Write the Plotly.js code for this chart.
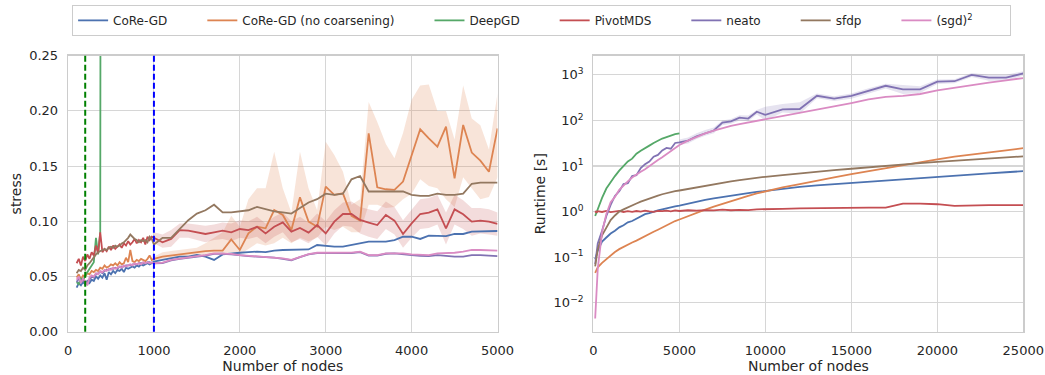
<!DOCTYPE html>
<html><head><meta charset="utf-8">
<script src="https://cdn.plot.ly/plotly-3.0.1.min.js"></script>
<style>html,body{margin:0;padding:0;background:#fff}#chart{width:1045px;height:375px}</style>
</head><body><div id="chart"></div>
<script>
// ---------- series names & colours ----------
const seriesNames = ['CoRe-GD', 'CoRe-GD (no coarsening)', 'DeepGD', 'PivotMDS', 'neato', 'sfdp', '(sgd)<sup>2</sup>'];
const seriesColors = ['#4c72b0', '#dd8452', '#55a868', '#c44e52', '#8172b3', '#937860', '#da8bc3'];

// ---------- stress (left) ----------
const stressNodes = [100,125,150,175,200,225,250,275,300,325,350,375,400,425,450,475,500,525,550,575,600,625,650,675,700,725,750,775,800,825,850,875,900,925,950,975,
  1000,1100,1200,1300,1400,1500,1600,1700,1800,1900,2000,2100,2200,2300,2400,2500,2600,2700,2800,2900,3000,3100,3200,3300,3400,3500,3600,3700,3800,3900,4000,4100,4200,4300,4400,4500,4600,4700,4800,4900,5000];

const stressCoreGD = [0.040,0.044,0.042,0.045,0.043,0.046,0.044,0.047,0.046,0.050,0.048,0.051,0.049,0.053,0.047,0.054,0.052,0.055,0.053,0.056,0.055,0.057,0.054,0.058,0.057,0.058,0.059,0.058,0.060,0.059,0.061,0.060,0.061,0.062,0.061,0.062,
  0.0634,0.065,0.0664,0.068,0.068,0.0695,0.068,0.065,0.070,0.071,0.0715,0.072,0.0725,0.072,0.0734,0.074,0.074,0.0745,0.0745,0.0785,0.0775,0.077,0.077,0.0785,0.0806,0.0815,0.0815,0.0815,0.083,0.086,0.086,0.084,0.087,0.087,0.0865,0.0885,0.0885,0.0906,0.0906,0.0906,0.0912];

const stressNoCoarse = [0.049,0.052,0.047,0.051,0.050,0.053,0.052,0.055,0.054,0.056,0.055,0.058,0.057,0.060,0.058,0.059,0.061,0.060,0.062,0.060,0.063,0.061,0.062,0.067,0.063,0.074,0.064,0.063,0.065,0.064,0.066,0.065,0.064,0.066,0.069,0.065,
  0.066,0.068,0.069,0.070,0.071,0.0725,0.073,0.0735,0.0734,0.0836,0.074,0.0891,0.0951,0.0936,0.1102,0.1057,0.0921,0.1217,0.0997,0.0951,0.1314,0.1239,0.1253,0.1048,0.1006,0.1797,0.1308,0.129,0.1284,0.136,0.1601,0.1833,0.1751,0.1676,0.1857,0.1389,0.1872,0.1622,0.1549,0.1449,0.1842];

const stressPivotMDS = [0.062,0.066,0.060,0.068,0.064,0.070,0.066,0.072,0.069,0.078,0.071,0.090,0.072,0.075,0.073,0.077,0.074,0.078,0.075,0.077,0.079,0.076,0.080,0.078,0.082,0.079,0.081,0.084,0.080,0.083,0.081,0.085,0.079,0.086,0.083,0.086,
  0.085,0.081,0.084,0.092,0.0915,0.090,0.0885,0.090,0.0915,0.090,0.093,0.092,0.095,0.089,0.095,0.099,0.0906,0.094,0.0897,0.0966,0.089,0.0997,0.1066,0.1066,0.1012,0.0988,0.0966,0.1057,0.1006,0.0885,0.0981,0.1066,0.1078,0.1108,0.0936,0.1108,0.1063,0.0997,0.1006,0.0997,0.0976];

const stressNeato = [0.045,0.048,0.046,0.047,0.044,0.043,0.047,0.050,0.049,0.052,0.053,0.054,0.053,0.055,0.056,0.056,0.057,0.057,0.058,0.057,0.059,0.059,0.059,0.060,0.060,0.060,0.061,0.061,0.061,0.062,0.062,0.062,0.062,0.063,0.063,0.062,
  0.0618,0.0622,0.0645,0.066,0.0668,0.068,0.069,0.0705,0.0706,0.070,0.069,0.0684,0.068,0.0676,0.067,0.066,0.0647,0.0676,0.070,0.0712,0.0713,0.0712,0.0713,0.0712,0.072,0.069,0.069,0.0706,0.071,0.070,0.0694,0.0688,0.0685,0.0694,0.0685,0.068,0.068,0.0694,0.0694,0.0688,0.0685];

const stressSfdp = [0.053,0.056,0.055,0.058,0.056,0.060,0.062,0.065,0.067,0.070,0.072,0.073,0.074,0.075,0.074,0.076,0.077,0.076,0.078,0.077,0.078,0.080,0.081,0.083,0.085,0.088,0.086,0.084,0.083,0.081,0.083,0.082,0.083,0.081,0.086,0.084,
  0.079,0.085,0.085,0.093,0.101,0.107,0.110,0.115,0.108,0.108,0.109,0.110,0.113,0.111,0.109,0.108,0.107,0.112,0.117,0.120,0.125,0.124,0.125,0.138,0.141,0.127,0.127,0.127,0.127,0.127,0.124,0.123,0.123,0.125,0.124,0.124,0.125,0.134,0.135,0.135,0.135];

const stressSgd2 = [0.047,0.050,0.044,0.048,0.046,0.042,0.049,0.051,0.050,0.053,0.052,0.055,0.054,0.056,0.055,0.057,0.056,0.058,0.057,0.058,0.059,0.058,0.060,0.059,0.060,0.061,0.060,0.062,0.061,0.062,0.061,0.063,0.062,0.063,0.062,0.063,
  0.062,0.0625,0.065,0.0664,0.0673,0.0685,0.0694,0.071,0.071,0.0704,0.0694,0.0688,0.0685,0.068,0.0673,0.0664,0.065,0.068,0.0703,0.0715,0.0716,0.0716,0.0716,0.0716,0.0725,0.0694,0.0694,0.071,0.071,0.071,0.070,0.0694,0.0694,0.071,0.071,0.0715,0.0725,0.074,0.074,0.0735,0.0734];

const deepgdNodes = [100,125,150,175,200,225,250,275,300,325,350,375,400,425,450,475,500];
const stressDeepGD = [0.045,0.043,0.048,0.046,0.051,0.054,0.058,0.060,0.063,0.085,0.070,0.090,2.0,2.6,3.1,3.5,3.9];

// confidence bands (1000-5000)
const bandNodes = [1000,1100,1200,1300,1400,1500,1600,1700,1800,1900,2000,2100,2200,2300,2400,2500,2600,2700,2800,2900,3000,3100,3200,3300,3400,3500,3600,3700,3800,3900,4000,4100,4200,4300,4400,4500,4600,4700,4800,4900,5000];
const noCoarseUpper = [0.068,0.072,0.073,0.074,0.075,0.076,0.08,0.085,0.09,0.105,0.095,0.12,0.13,0.13,0.163,0.13,0.108,0.163,0.13,0.11,0.172,0.16,0.145,0.115,0.12,0.208,0.19,0.17,0.157,0.18,0.21,0.223,0.224,0.2,0.2,0.174,0.223,0.193,0.187,0.165,0.216];
const noCoarseLower = [0.064,0.065,0.066,0.067,0.068,0.069,0.07,0.07,0.071,0.072,0.07,0.075,0.08,0.078,0.08,0.085,0.08,0.085,0.082,0.085,0.095,0.092,0.095,0.09,0.09,0.115,0.115,0.112,0.113,0.12,0.125,0.138,0.132,0.13,0.12,0.113,0.14,0.13,0.12,0.122,0.14];
const pivotUpper = [0.09,0.088,0.092,0.098,0.098,0.097,0.096,0.097,0.099,0.098,0.101,0.100,0.104,0.098,0.104,0.108,0.100,0.104,0.099,0.107,0.1,0.110,0.117,0.118,0.113,0.111,0.109,0.118,0.113,0.101,0.111,0.12,0.121,0.124,0.108,0.124,0.119,0.112,0.112,0.111,0.108];
const pivotLower = [0.08,0.076,0.077,0.085,0.085,0.083,0.081,0.083,0.084,0.082,0.085,0.084,0.086,0.080,0.086,0.09,0.081,0.084,0.080,0.086,0.078,0.089,0.096,0.095,0.089,0.086,0.084,0.093,0.088,0.076,0.085,0.093,0.094,0.097,0.079,0.097,0.093,0.087,0.089,0.088,0.087];

const thresholdNodes = [200, 1000];
const thresholdColors = ['#008000', '#0000ff'];

// ---------- runtime (right) ----------
const rtNodes = [100,150,200,250,500,750,1000,1250,1500,1750,2000,2250,2500,2750,3000,3250,3500,3750,4000,4250,4500,4750,5000,
  5500,6000,6500,7000,7500,8000,8500,9000,9500,10000,11000,12000,13000,14000,15000,16000,17000,18000,19000,20000,21000,22000,23000,24000,25000];
const rtCoreGD = [0.09,0.1,0.12,0.14,0.22,0.27,0.33,0.38,0.45,0.5,0.58,0.62,0.7,0.78,0.88,0.92,1.0,1.06,1.12,1.18,1.28,1.3,1.35,1.5,1.65,1.8,1.95,2.1,2.25,2.4,2.55,2.7,2.85,3.2,3.5,3.75,4.0,4.2,4.5,4.8,5.1,5.4,5.7,6.1,6.5,6.9,7.3,7.7];
const rtNoCoarse = [0.045,0.05,0.055,0.06,0.075,0.09,0.11,0.13,0.15,0.17,0.19,0.21,0.23,0.26,0.29,0.32,0.36,0.4,0.45,0.5,0.56,0.62,0.67,0.8,0.95,1.1,1.28,1.48,1.7,1.95,2.2,2.5,2.8,3.4,4.0,4.8,5.6,6.6,7.7,9.0,10.5,12.2,14,16,18,20,22,24.6];
const rtDeepGD = [0.8,0.9,1.0,1.1,2.0,3.2,4.5,6.0,7.9,10,12.6,14.5,18.6,21.5,25,28,32,36,40,43,47,50,52];
const rtPivotMDS = [0.95,1.0,0.97,1.02,0.98,1.03,0.97,1.01,1.04,0.98,1.02,0.99,1.03,1.0,1.05,1.01,0.99,1.04,1.02,1.05,1.01,1.06,1.03,1.07,1.05,1.08,1.06,1.1,1.07,1.09,1.08,1.12,1.14,1.15,1.17,1.19,1.2,1.22,1.22,1.22,1.5,1.5,1.45,1.33,1.38,1.38,1.38,1.38];
const rtNeato = [0.07,0.1,0.13,0.2,0.38,0.8,1.4,2.2,2.8,4.0,4.2,6.0,6.3,9.0,11,12.5,16,17.5,22,25,24,32,33,36,45,53,60,90,95,115,110,155,132,174,178,347,302,347,447,575,479,479,708,724,1000,871,871,1070];
const rtSfdp = [0.063,0.09,0.12,0.15,0.3,0.45,0.65,0.82,1.0,1.12,1.25,1.4,1.5,1.65,1.8,1.95,2.1,2.25,2.4,2.55,2.7,2.8,2.9,3.15,3.4,3.7,4.0,4.3,4.6,4.9,5.2,5.5,5.8,6.3,6.9,7.5,8.1,8.7,9.4,10.1,10.9,11.6,12.3,13.1,13.9,14.7,15.5,16.3];
const rtSgd2 = [0.0045,0.013,0.033,0.056,0.35,0.89,1.6,2.1,3.0,3.8,4.6,5.6,6.6,7.5,8.5,10,11.5,13.5,15.5,18,21,25,29,36,44,52,60,68,76,83,90,98,107,125,145,170,204,240,288,330,345,380,457,525,603,676,759,851];
const rtDeepGDNodes = rtNodes.slice(0, rtDeepGD.length);

const neatoBandNodes = [5000,5500,6000,6500,7000,7500,8000,8500,9000,9500,10000,11000,12000,13000,14000,15000,16000,17000,18000,19000,20000,21000,22000,23000,24000,25000];
const neatoUpper = [38,42,52,62,70,100,108,130,128,170,200,230,250,390,340,390,510,640,600,560,790,800,1100,1000,1000,1200];
const neatoLower = [29,31,39,46,52,78,84,100,96,135,100,150,140,305,265,300,380,500,380,400,630,650,900,740,740,960];

const rtTickVals = [0.01, 0.1, 1, 10, 100, 1000];
const rtTickText = ['10<sup>\u22122</sup>', '10<sup>\u22121</sup>', '10<sup>0</sup>', '10<sup>1</sup>', '10<sup>2</sup>', '10<sup>3</sup>'];

// ---------- build ----------
const LEGEND_FONT = 12;
const measureCtx = document.createElement('canvas').getContext('2d');
measureCtx.font = LEGEND_FONT + 'px "DejaVu Sans"';
function labelWidth(s) { return measureCtx.measureText(s.replace(/<[^>]+>/g, '')).width; }

function band(x, up, lo, color, xa, ya) {
  return {x: x.concat(x.slice().reverse()), y: up.concat(lo.slice().reverse()), xaxis: xa, yaxis: ya,
    type: 'scatter', mode: 'lines', fill: 'toself', fillcolor: color, line: {width: 0}, hoverinfo: 'skip', showlegend: false};
}
function line(x, y, i, xa, ya, legend) {
  return {x: x, y: y, xaxis: xa, yaxis: ya, type: 'scatter', mode: 'lines', name: seriesNames[i],
    legendwidth: labelWidth(seriesNames[i]) + 30,
    line: {color: seriesColors[i], width: 1.8}, showlegend: legend, hoverinfo: 'skip'};
}

const traces = [
  band(bandNodes, noCoarseUpper, noCoarseLower, 'rgba(221,132,82,0.22)', 'x', 'y'),
  band(bandNodes, pivotUpper, pivotLower, 'rgba(196,78,82,0.2)', 'x', 'y'),
  band(neatoBandNodes, neatoUpper, neatoLower, 'rgba(129,114,179,0.2)', 'x2', 'y2'),
  line(stressNodes, stressCoreGD, 0, 'x', 'y', true),
  line(stressNodes, stressNoCoarse, 1, 'x', 'y', true),
  line(deepgdNodes, stressDeepGD, 2, 'x', 'y', true),
  line(stressNodes, stressPivotMDS, 3, 'x', 'y', true),
  line(stressNodes, stressNeato, 4, 'x', 'y', true),
  line(stressNodes, stressSfdp, 5, 'x', 'y', true),
  line(stressNodes, stressSgd2, 6, 'x', 'y', true),
  line(rtNodes, rtCoreGD, 0, 'x2', 'y2', false),
  line(rtNodes, rtNoCoarse, 1, 'x2', 'y2', false),
  line(rtDeepGDNodes, rtDeepGD, 2, 'x2', 'y2', false),
  line(rtNodes, rtPivotMDS, 3, 'x2', 'y2', false),
  line(rtNodes, rtNeato, 4, 'x2', 'y2', false),
  line(rtNodes, rtSfdp, 5, 'x2', 'y2', false),
  line(rtNodes, rtSgd2, 6, 'x2', 'y2', false)
];

const axisStyle = {showgrid: true, gridcolor: '#d6d6d6', gridwidth: 1.1, showline: true, mirror: true,
  linecolor: '#cccccc', linewidth: 1.3, zeroline: false, ticks: 'outside', ticklen: 6, tickcolor: 'rgba(0,0,0,0)',
  tickfont: {size: 13, color: '#262626'}};
const titleFont = {size: 14, color: '#262626'};

const shapes = thresholdNodes.map((t, i) => ({type: 'line', xref: 'x', yref: 'y domain', x0: t, x1: t, y0: 0, y1: 1,
  line: {color: thresholdColors[i], width: 2, dash: '6px,3px'}}));

const layout = {
  width: 1045, height: 375, margin: {l: 0, r: 0, t: 0, b: 0},
  paper_bgcolor: '#ffffff', plot_bgcolor: '#ffffff',
  font: {family: 'DejaVu Sans, sans-serif', size: 13, color: '#262626'},
  showlegend: true,
  legend: {orientation: 'h', x: 0.069, xanchor: 'left', y: 0.987, yanchor: 'top',
    bordercolor: '#cccccc', borderwidth: 1, bgcolor: '#ffffff', font: {size: LEGEND_FONT, color: '#262626'}},
  xaxis: Object.assign({}, axisStyle, {domain: [0.0651, 0.4761], range: [0, 5000], dtick: 1000, tickformat: 'd', anchor: 'y',
    title: {text: 'Number of nodes', font: titleFont, standoff: 4}}),
  yaxis: Object.assign({}, axisStyle, {domain: [0.1155, 0.8515], range: [0, 0.25], dtick: 0.05, tickformat: '.2f', anchor: 'x',
    title: {text: 'stress', font: titleFont, standoff: 4}}),
  xaxis2: Object.assign({}, axisStyle, {domain: [0.5679, 0.9792], range: [0, 25000], dtick: 5000, tickformat: 'd', anchor: 'y2',
    title: {text: 'Number of nodes', font: titleFont, standoff: 4}}),
  yaxis2: Object.assign({}, axisStyle, {domain: [0.1155, 0.8515], type: 'log', range: [-2.635, 3.42], anchor: 'x2',
    tickvals: rtTickVals, ticktext: rtTickText, title: {text: 'Runtime [s]', font: titleFont, standoff: 4}}),
  shapes: shapes
};

Plotly.newPlot('chart', traces, layout, {staticPlot: true, displayModeBar: false});
</script></body></html>
